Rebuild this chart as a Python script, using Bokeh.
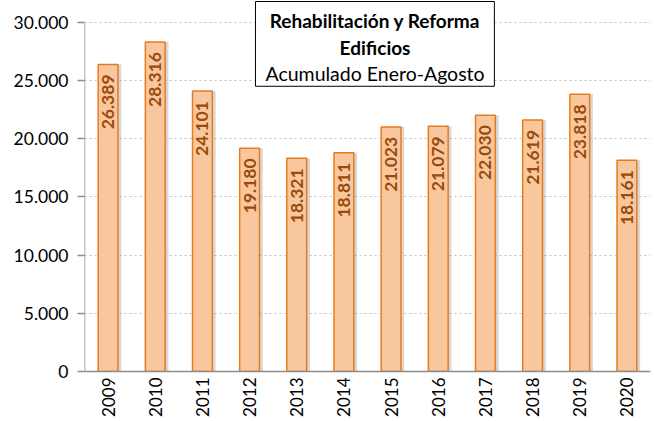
import math
from bokeh.plotting import figure
from bokeh.models import ColumnDataSource, CustomJSTickFormatter, FixedTicker, Range1d
from bokeh.transform import dodge
from bokeh.core.properties import value
from bokeh.embed import file_html
from bokeh.resources import INLINE

years = ["2009", "2010", "2011", "2012", "2013", "2014", "2015", "2016", "2017", "2018", "2019", "2020"]
values = [26389, 28316, 24101, 19180, 18321, 18811, 21023, 21079, 22030, 21619, 23818, 18161]
labels = ["26.389", "28.316", "24.101", "19.180", "18.321", "18.811", "21.023", "21.079", "22.030", "21.619", "23.818", "18.161"]
title_lines = ["Rehabilitación y Reforma", "Edificios", "Acumulado Enero-Agosto"]
y_ticks = [0, 5000, 10000, 15000, 20000, 25000, 30000]

FONT = "Lato"
src = ColumnDataSource(dict(year=years, val=values, lab=labels))

p = figure(x_range=years, y_range=Range1d(0, 31886), width=651, height=419,
           output_backend="svg", toolbar_location=None,
           min_border_left=84, min_border_right=1, min_border_top=0, min_border_bottom=47)
p.outline_line_color = None
p.background_fill_color = "white"
p.border_fill_color = "white"

# shadows
p.vbar(x=dodge("year", 0.07, range=p.x_range), top="val", width=0.42, source=src,
       fill_color="#7f7f7f", fill_alpha=0.3, line_color=None)
p.vbar(x="year", top="val", width=0.42, source=src,
       fill_color="#F9C79E", line_color="#E87B1E", line_width=1.5)

p.text(x="year", y="val", text="lab", source=src, angle=math.pi / 2,
       text_align="right", text_baseline="middle", y_offset=10,
       text_font=value(FONT), text_font_style="bold", text_font_size="17.5px",
       text_color="#9A4A0C")

# y axis line only up to the top tick
p.segment(x0=[0], y0=[0], x1=[0], y1=[y_ticks[-1]], line_color="#8c8c8c", line_width=1.5)

p.yaxis.ticker = FixedTicker(ticks=y_ticks)
p.yaxis.formatter = CustomJSTickFormatter(code="return tick == 0 ? '0' : (tick/1000).toFixed(3);")
p.yaxis.axis_line_color = None
p.yaxis.major_tick_line_color = "#8c8c8c"
p.yaxis.major_tick_line_width = 1.5
p.yaxis.major_tick_out = 7
p.yaxis.major_tick_in = 0
p.yaxis.major_label_standoff = 9
p.yaxis.minor_tick_line_color = None
p.yaxis.major_label_text_font = FONT
p.yaxis.major_label_text_font_size = "17.5px"
p.yaxis.major_label_text_color = "black"

p.xaxis.axis_line_color = "#8c8c8c"
p.xaxis.axis_line_width = 1.5
p.xaxis.major_tick_line_color = None
p.xaxis.major_tick_out = 0
p.xaxis.major_label_standoff = 6
p.xaxis.major_label_orientation = math.pi / 2
p.xaxis.major_label_text_font = FONT
p.xaxis.major_label_text_font_size = "17px"
p.xaxis.major_label_text_color = "black"

p.xgrid.grid_line_color = None
p.ygrid.grid_line_color = "#bfbfbf"
p.ygrid.grid_line_dash = "2 3"

# title box
p.quad(left=[3.625], right=[8.69], bottom=[24514], top=[31800],
       fill_color="white", line_color="black", line_width=1)
p.text(x=[6.16] * 3, y=[30171, 27857, 25629], text=title_lines,
       text_align="center", text_baseline="middle",
       text_font=value(FONT), text_font_size=["19px", "19px", "19.5px"],
       text_font_style=["bold", "bold", "normal"], text_color="black")

open("out.html", "w").write(file_html(p, INLINE))
